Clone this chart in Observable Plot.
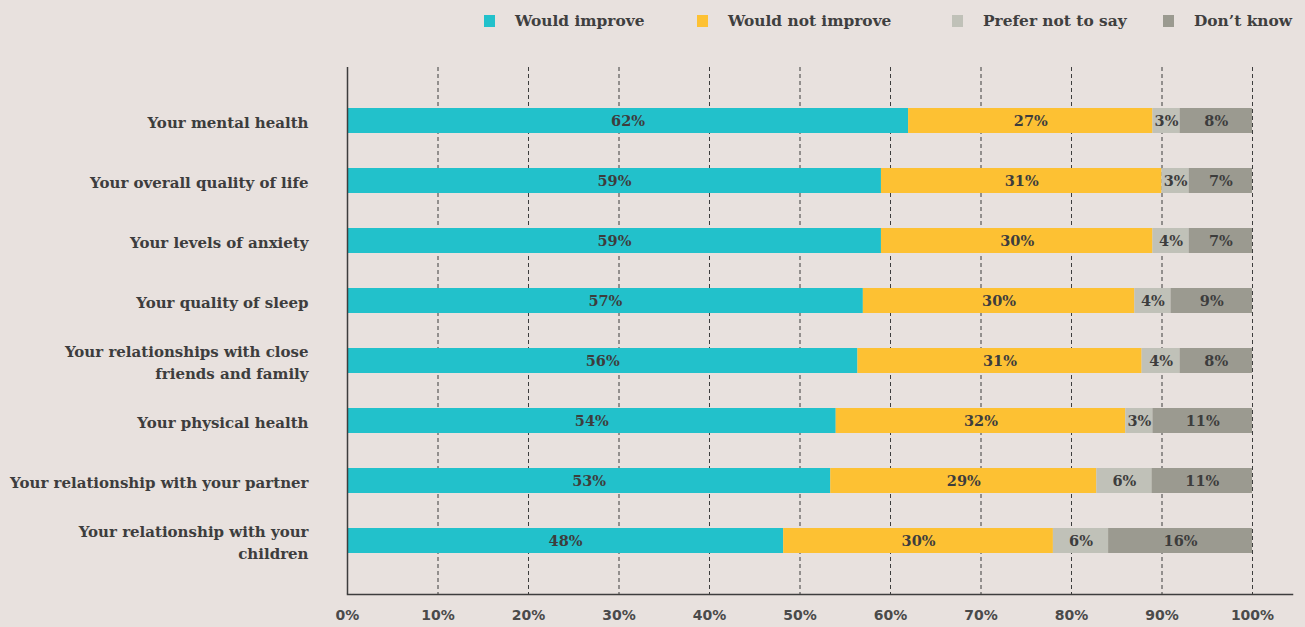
<!DOCTYPE html>
<html><head><meta charset="utf-8">
<script src="https://cdn.jsdelivr.net/npm/d3@7"></script>
<script src="https://cdn.jsdelivr.net/npm/@observablehq/plot@0.6"></script>
<style>
body{margin:0;background:#e8e1de;width:1305px;height:627px;overflow:hidden;font-family:"DejaVu Serif";}
#legend{height:42px;position:relative;}
.item{position:absolute;top:0;height:42px;display:flex;align-items:center;font-weight:bold;font-size:15.4px;color:#3f3f3f;white-space:nowrap}
.sw{width:11px;height:12px;margin-right:20px}
#chart svg{display:block}
</style></head><body>
<div id="legend"></div><div id="chart"></div>
<script>
const questions = [
  "Your mental health",
  "Your overall quality of life",
  "Your levels of anxiety",
  "Your quality of sleep",
  "Your relationships with close\nfriends and family",
  "Your physical health",
  "Your relationship with your partner",
  "Your relationship with your\nchildren"
];
const categories = ["Would improve", "Would not improve", "Prefer not to say", "Don’t know"];
const colors = ["#22c1cb", "#fdc133", "#c0c1b8", "#9b9a90"];
const improve    = [62, 59, 59, 57, 56.4, 54, 53.4, 48.2];
const notImprove = [27, 31, 30, 30, 31.4, 32, 29.4, 29.8];
const preferNot  = [3, 3, 4, 4, 4.2, 3, 6.1, 6.1];
const dontKnow   = [8, 7, 7, 9, 8, 11, 11.1, 15.9];
const xTicks = [0, 10, 20, 30, 40, 50, 60, 70, 80, 90, 100];

const series = [improve, notImprove, preferNot, dontKnow];
const data = [];
questions.forEach((q, i) => categories.forEach((c, j) => data.push({q, cat: c, value: series[j][i]})));

const legendLeft = [484, 697, 952, 1163];
const legend = document.getElementById("legend");
categories.forEach((c, j) => {
  const it = document.createElement("div"); it.className = "item"; it.style.left = legendLeft[j] + "px";
  const sw = document.createElement("div"); sw.className = "sw"; sw.style.background = colors[j];
  it.appendChild(sw); it.appendChild(document.createTextNode(c));
  legend.appendChild(it);
});

const ink = "#3d3d3d";
const chart = Plot.plot({
  width: 1305, height: 585,
  marginTop: 25, marginBottom: 33, marginLeft: 347, marginRight: 13,
  style: {background: "#e8e1de", color: ink, fontFamily: "DejaVu Serif"},
  x: {domain: [0, 100], range: [347, 1252]},
  y: {domain: questions, range: [48, 529], paddingInner: 0.583, paddingOuter: 0.29, align: 0.5},
  color: {domain: categories, range: colors},
  marks: [
    Plot.gridX(xTicks.slice(1), {stroke: ink, strokeOpacity: 1, strokeWidth: 1, strokeDasharray: "4,3"}),
    Plot.barX(data, {x: "value", y: "q", fill: "cat", order: categories}),
    Plot.text(data, Plot.stackX({x: "value", y: "q", z: "cat", order: categories,
      text: d => Math.round(d.value) + "%", fill: ink, fontWeight: "bold", fontSize: 14.5, fontFamily: "DejaVu Serif"})),
    Plot.ruleX([0], {stroke: ink, strokeWidth: 1.5}),
    Plot.frame({anchor: "bottom", stroke: ink, strokeWidth: 1.5}),
    Plot.axisY({tickSize: 0, tickPadding: 39, fontSize: 15, fontWeight: "bold", lineHeight: 1.45, fill: ink, label: null}),
    Plot.axisX({ticks: xTicks, tickFormat: d => d + "%", tickSize: 0, tickPadding: 16, fontSize: 14, fontWeight: "bold", fontFamily: "DejaVu Sans", fill: "#4a4a4a", label: null})
  ]
});
document.getElementById("chart").appendChild(chart);
</script>
</body></html>
